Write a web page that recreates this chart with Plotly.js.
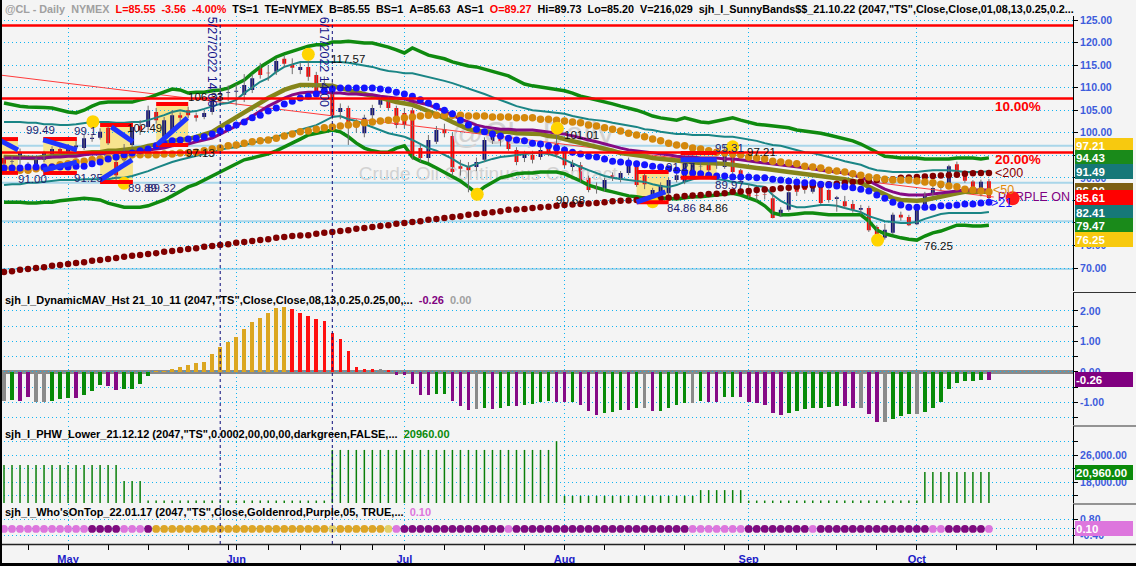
<!DOCTYPE html>
<html><head><meta charset="utf-8">
<script src="https://cdn.plot.ly/plotly-3.0.1.min.js"></script>
<style>html,body{margin:0;padding:0;background:#f4f4f4;}#chart{width:1136px;height:566px;}</style>
</head><body><div id="chart"></div>
<script>
// ---------- DATA (trading-day index 0 = 2022-04-20 ... 123 = 2022-10-14) ----------
const monthTickIdx = [8, 29, 50, 70, 93, 114];
const monthTickText = ['May','Jun','Jul','Aug','Sep','Oct'];
const weekTickIdx = [3,8,13,18,23,28,33,37,42,46,50,55,60,65,70,75,80,85,90,95,99,104,109,114,119,124,129];

const candleOpen = [94.4,93.5,94.0,93.0,92.0,94.0,95.3,96.4,95.8,96.8,
96.6,98.6,98.9,101.1,93.5,93.9,97.3,101.5,101.3,104.6,
99.1,100.6,103.9,105.0,103.9,103.5,104.6,108.4,108.8,109.1,
108.4,109.5,114.6,113.3,113.5,116.4,115.0,113.9,114.6,112.8,
110.1,110.6,104.6,105.5,101.7,99.9,103.9,106.2,107.3,105.5,
104.4,105.0,96.6,94.4,98.0,100.8,99.3,92.6,92.4,92.4,
94.0,98.0,98.8,98.6,96.2,94.4,95.1,94.6,96.8,98.0,
96.6,92.4,92.8,90.0,87.9,87.3,90.6,89.5,91.1,92.8,
90.6,86.2,86.6,86.6,89.5,89.1,91.7,92.5,93.5,92.9,
92.4,94.7,91.7,87.7,86.1,86.3,85.5,81.5,82.9,88.2,
88.4,86.9,88.4,87.3,85.3,84.8,84.2,82.9,83.3,79.1,
76.7,77.8,81.8,81.3,79.7,83.4,86.5,87.8,88.7,93.0,
91.2,89.2,87.0,89.27];
const candleHigh = [95.0,94.8,96.5,93.5,94.5,96.0,97.0,97.2,97.5,98.5,
99.5,99.5,101.0,101.5,94.5,97.5,102.5,102.8,106.0,105.5,
103.5,105.0,104.5,105.8,104.5,105.0,108.5,110.1,110.5,110.8,
113.0,113.0,115.5,115.0,116.5,117.0,116.5,115.5,117.57,113.5,
112.5,111.3,106.5,106.0,103.0,104.0,106.2,108.0,108.0,106.0,
105.5,105.5,97.5,99.5,101.5,102.0,100.0,94.0,93.5,94.5,
99.0,100.9,100.0,99.5,96.8,96.0,96.0,97.0,97.5,101.0,
97.0,94.0,93.5,90.5,89.0,90.0,91.2,91.5,94.5,93.5,
91.0,87.8,89.0,90.0,91.3,94.5,94.5,93.5,94.2,94.0,
97.2,95.5,92.0,88.6,87.5,87.7,86.5,83.5,87.0,88.5,
88.8,89.3,88.8,87.5,86.0,86.0,85.0,84.0,83.8,79.5,
79.8,82.3,82.5,81.8,84.0,86.9,88.4,89.0,92.9,93.6,
91.6,89.5,89.6,89.73];
const candleLow = [92.5,92.0,93.0,91.0,91.5,93.5,94.8,95.0,95.2,96.0,
96.2,98.0,98.5,97.3,89.3,92.5,96.8,99.5,100.5,102.0,
98.5,100.0,102.6,103.2,102.5,103.0,104.0,106.6,107.0,106.0,
106.8,108.8,112.0,111.5,112.8,114.5,113.0,113.0,111.5,108.0,
109.0,103.0,103.0,97.3,100.0,99.0,103.0,105.5,105.0,101.0,
101.0,94.0,93.5,93.5,97.5,99.0,90.5,90.5,86.8,91.5,
93.5,97.5,97.0,96.0,92.8,93.5,93.2,94.0,94.8,94.5,
92.2,91.5,89.0,86.8,86.5,86.9,89.3,89.0,90.6,88.0,
87.5,85.3,86.0,86.0,89.0,88.6,91.2,91.5,91.0,92.0,
92.0,90.5,89.0,85.5,85.0,85.2,81.0,81.3,82.5,86.0,
86.5,86.5,84.2,84.5,82.5,83.1,82.3,81.9,78.0,76.25,
76.3,77.5,80.5,79.3,79.5,83.3,86.0,87.2,88.5,90.5,
88.9,86.9,85.9,85.20];
const candleClose = [93.1,93.6,95.5,91.8,94.0,95.5,96.4,95.8,96.8,97.2,
98.8,98.9,100.2,97.7,90.6,96.6,101.3,100.5,105.0,102.8,
102.8,103.9,103.3,103.9,103.3,104.4,107.9,108.8,109.0,109.3,
110.6,112.1,112.8,113.2,115.9,115.3,114.4,114.6,112.4,109.0,
111.0,103.9,105.5,101.7,101.2,103.3,105.5,107.3,105.5,101.7,
101.7,94.6,94.4,98.4,100.6,99.9,91.3,92.0,91.7,93.5,
98.4,100.6,98.0,96.4,93.5,95.1,94.0,96.2,95.5,95.1,
92.8,93.3,89.5,87.3,87.5,89.5,90.0,91.1,93.3,88.4,
88.6,87.3,88.4,89.5,90.6,94.0,93.9,92.6,91.7,92.8,
95.5,91.3,89.5,85.8,86.0,86.2,81.1,82.9,86.8,86.9,
87.3,88.8,84.4,85.1,85.7,83.7,82.9,83.3,78.4,77.3,
78.5,81.8,81.2,79.5,83.6,86.5,87.76,88.45,92.6,91.1,
89.35,87.27,89.11,85.55];

const upperGreen = [106.6,106.2,105.9,105.7,105.7,105.6,105.5,105.0,104.6,104.4,
105.0,105.9,106.6,106.8,106.8,106.8,106.8,107.3,107.7,108.4,
109.0,109.7,109.5,108.8,109.0,109.0,109.3,109.5,109.9,110.8,
111.7,113.2,114.6,115.7,116.8,117.5,118.1,118.8,119.2,119.5,
119.5,120.1,120.1,120.3,120.1,119.9,119.9,119.5,119.0,118.4,
117.7,118.8,117.9,117.2,116.8,116.4,115.7,115.2,114.8,114.6,
114.1,113.7,113.2,112.6,111.7,110.8,110.4,110.1,109.9,109.5,
109.3,108.8,108.1,107.7,107.3,106.8,106.4,105.9,105.5,105.0,
104.4,103.7,103.3,103.0,102.8,103.3,102.8,102.4,102.2,102.6,
103.0,103.3,102.8,102.4,101.9,101.7,101.5,101.3,101.1,100.6,
100.4,100.2,99.9,99.5,99.1,98.6,98.2,97.5,96.6,95.5,
94.8,94.6,94.4,94.4,94.4,94.2,94.2,94.2,94.2,94.4,
94.4,94.4,94.2,94.43];
const upperTeal = [102.4,102.4,102.4,102.2,102.2,101.9,101.9,101.7,101.7,101.9,
102.2,102.4,102.4,102.4,102.2,102.2,102.4,102.4,102.8,103.3,
103.9,104.6,105.0,104.6,104.8,105.3,105.9,106.4,106.6,107.3,
108.8,110.1,111.3,112.1,113.5,114.6,115.2,115.7,115.7,115.7,
115.7,115.7,115.7,115.5,115.2,115.0,114.6,114.1,113.7,113.5,
113.2,113.2,112.8,112.4,111.9,111.5,111.0,110.4,109.9,109.3,
108.6,107.9,107.3,106.6,105.9,105.5,105.0,104.8,104.6,104.4,
104.2,103.7,103.3,103.0,102.8,102.6,102.2,101.9,101.5,101.3,
100.8,100.6,100.2,99.9,99.7,99.7,99.5,99.5,99.5,99.3,
99.1,99.1,98.8,98.6,98.2,97.7,97.3,97.1,96.6,96.2,
95.7,95.5,95.1,94.6,94.2,93.7,93.3,92.9,92.2,91.7,
91.5,91.3,91.3,91.3,91.3,91.5,91.7,91.7,91.7,91.5,
91.3,91.3,91.3,91.49];
const lowerTeal = [88.4,88.6,88.6,88.9,88.9,89.1,89.3,89.5,89.5,89.5,
89.7,89.7,89.7,89.7,90.0,90.0,90.4,90.9,91.5,92.2,
92.9,93.5,94.0,94.4,94.8,95.3,95.7,96.2,96.6,96.8,
97.3,97.7,98.2,98.6,99.1,99.7,100.2,100.6,101.1,101.7,
102.6,103.5,103.7,103.0,102.6,101.9,101.3,100.6,99.9,99.5,
99.1,98.4,97.5,96.6,96.0,95.1,94.2,93.1,92.4,93.1,
93.7,94.2,94.6,94.8,95.1,95.3,95.5,95.5,95.3,94.8,
94.0,93.1,92.4,91.7,91.1,90.4,90.0,89.7,89.5,89.3,
89.1,88.6,88.2,88.0,88.4,89.1,89.7,90.0,90.0,89.7,
89.5,89.1,88.9,88.6,88.2,88.0,86.2,84.9,84.0,83.5,
83.5,83.8,84.0,84.0,83.8,83.3,82.9,82.4,81.5,80.9,
80.4,80.2,80.0,80.0,80.2,80.9,81.5,82.0,82.2,82.2,
82.2,82.2,82.2,82.41];
const lowerGreen = [84.6,84.6,84.6,84.4,84.4,84.6,84.6,84.9,85.1,85.3,
85.5,85.3,85.1,84.4,84.0,83.5,83.5,83.5,83.8,84.4,
85.1,86.0,87.1,88.0,88.6,89.5,90.4,91.5,92.4,93.3,
94.0,94.4,94.8,95.3,96.0,96.8,97.7,98.6,99.5,99.9,
100.2,100.6,100.2,99.1,97.7,96.6,96.0,95.7,95.7,96.6,
97.1,94.6,93.7,93.1,92.2,91.3,90.4,89.3,88.0,86.6,
88.0,89.1,90.0,90.4,90.9,91.1,91.1,91.3,91.3,91.3,
90.9,90.2,89.3,88.4,87.8,87.3,86.9,86.4,86.0,85.8,
85.5,85.5,85.5,85.5,85.3,85.5,85.8,85.8,86.0,86.2,
86.4,86.6,86.2,85.5,84.9,83.8,82.2,81.8,81.8,82.0,
82.2,82.2,82.0,81.8,81.8,81.8,81.8,81.8,80.4,78.4,
77.6,77.1,76.7,76.4,76.2,77.1,77.8,78.2,78.9,79.5,
79.5,79.3,79.3,79.47];
const oliveMA = [94.6,94.5,94.4,94.4,94.4,94.6,94.8,95.1,95.1,95.3,
95.5,95.7,95.7,96.0,96.0,96.2,96.2,96.6,97.1,97.3,
97.7,98.2,98.4,98.6,99.1,99.7,100.2,101.3,102.4,103.3,
104.4,105.5,106.6,107.7,108.6,109.5,110.1,110.6,110.6,110.6,
110.6,110.4,109.9,109.5,109.0,108.6,108.1,107.7,107.3,106.8,
106.6,106.2,105.5,104.8,104.2,103.3,102.4,101.5,100.8,100.4,
100.2,100.2,100.2,100.2,99.9,99.9,99.9,99.7,99.3,99.1,
98.6,98.2,97.7,97.3,96.8,96.4,96.0,95.5,95.3,95.1,
94.8,94.4,94.2,94.0,93.7,93.5,93.5,93.3,93.3,93.3,
93.1,92.9,92.6,92.4,92.2,92.0,91.7,91.5,91.3,91.1,
90.9,90.6,90.4,90.2,90.0,89.7,89.3,88.9,88.0,87.1,
86.2,85.5,85.1,84.9,84.9,85.1,85.5,86.0,86.4,86.6,
86.9,86.9,86.9,86.9];
const purpleMA = [94.4,94.4,94.4,94.4,94.4,94.4,94.6,94.6,94.8,94.8,
95.1,95.3,95.3,95.5,95.5,95.7,95.7,96.0,96.2,96.4,
96.6,97.1,97.3,97.5,98.0,98.4,98.8,99.7,100.6,101.5,
102.6,103.7,104.8,105.9,106.8,107.7,108.4,108.8,109.0,109.0,
109.0,108.8,108.8,108.6,108.6,108.4,108.4,108.1,107.9,107.7,
107.5,107.0,106.6,106.2,105.5,104.8,103.9,103.0,102.4,101.7,
101.3,101.1,100.8,100.8,100.6,100.6,100.6,100.4,100.2,99.9,
99.7,99.3,98.8,98.4,98.0,97.5,97.1,96.6,96.2,96.0,
95.7,95.5,95.3,95.1,94.8,94.6,94.6,94.4,94.4,94.4,
94.2,94.2,94.0,93.7,93.5,93.3,93.1,92.9,92.6,92.4,
92.2,92.0,91.7,91.5,91.3,91.1,90.6,90.2,89.3,88.4,
87.5,86.9,86.4,86.2,86.2,86.2,86.4,86.6,86.9,87.1,
87.3,87.3,87.3,87.3];
const ma21 = [92.2,92.2,92.2,92.4,92.4,92.4,92.4,92.4,92.4,92.6,
92.6,93.1,93.5,94.2,94.6,95.1,95.5,96.0,96.4,97.1,
97.7,98.2,98.4,98.6,98.8,99.1,99.7,100.4,101.1,101.7,
102.4,103.3,103.9,104.8,105.5,106.4,107.0,107.7,108.1,108.6,
109.3,109.7,109.9,109.9,109.9,109.9,109.9,109.7,109.5,109.0,
108.6,108.1,107.3,106.6,105.9,105.0,104.2,102.8,101.7,100.8,
100.2,99.7,99.3,98.8,98.4,98.2,97.7,97.5,97.1,96.6,
96.2,95.7,95.3,94.8,94.6,94.2,93.7,93.5,93.3,93.1,
92.9,92.6,92.4,92.0,91.7,91.3,91.1,90.9,90.6,90.4,
90.4,90.2,90.2,90.2,90.0,90.0,89.7,89.5,89.3,89.1,
88.9,88.9,88.6,88.4,88.2,88.0,87.8,87.5,87.1,86.2,
85.5,84.6,84.0,83.5,83.5,83.5,83.5,83.8,83.8,84.0,
84.2,84.2,84.4,84.6];
const ma50 = [92.2,92.0,91.7,91.7,92.0,92.2,92.4,92.9,93.1,93.5,
93.7,94.0,94.2,94.4,94.6,94.8,95.1,95.1,95.1,95.1,
95.3,95.3,95.5,95.5,95.7,96.0,96.4,96.6,97.1,97.3,
97.7,98.0,98.2,98.4,98.8,99.3,99.7,100.2,100.4,100.8,
101.1,101.3,101.5,101.7,101.9,102.2,102.4,102.6,102.8,103.0,
103.3,103.5,103.7,103.9,103.9,103.9,103.9,103.9,103.7,103.7,
103.7,103.5,103.5,103.5,103.3,103.3,103.3,103.0,103.0,102.8,
102.6,102.4,102.2,101.7,101.5,101.1,100.8,100.4,99.9,99.5,
99.1,98.6,98.2,97.7,97.3,97.1,96.6,96.4,96.0,95.7,
95.5,95.3,95.1,94.6,94.4,94.2,93.7,93.5,93.3,93.1,
92.6,92.4,92.2,91.7,91.5,91.3,90.9,90.6,90.2,90.0,
89.7,89.5,89.5,89.5,89.3,89.1,88.9,88.6,88.2,88.0,
87.5,87.3,87.1,86.9];
const ma200 = [69.1,69.3,69.6,69.8,70.0,70.2,70.5,70.7,70.9,71.1,
71.3,71.6,71.8,72.0,72.2,72.5,72.7,72.9,73.1,73.3,
73.6,73.8,74.0,74.2,74.4,74.7,74.9,75.1,75.3,75.6,
75.8,76.0,76.2,76.4,76.7,76.9,77.1,77.2,77.3,77.6,
77.8,78.0,78.2,78.4,78.7,78.9,79.1,79.3,79.5,79.8,
80.0,80.2,80.4,80.7,80.9,81.1,81.3,81.5,81.8,82.0,
82.2,82.4,82.6,82.9,83.0,83.1,83.3,83.5,83.6,83.8,
84.0,84.1,84.2,84.3,84.4,84.6,84.8,84.9,85.0,85.1,
85.2,85.3,85.5,85.6,85.8,86.0,86.1,86.2,86.4,86.5,
86.6,86.9,87.0,87.1,87.3,87.4,87.5,87.7,87.8,88.0,
88.2,88.3,88.4,88.6,88.7,88.9,89.1,89.2,89.3,89.5,
89.6,89.7,90.0,90.1,90.2,90.3,90.4,90.5,90.6,90.7,
90.9,91.0,91.1,91.1];

const levelRed = [123.8, 107.6, 95.6];
const levelBlue = [97.1, 88.9, 80.4, 69.8];
const trendX = [-0.5, 123.6];
const trendY = [112.8, 85.75];
const timeMarkIdx = [27, 41];
const timeMarkText = ['5/27/2022 14:00', '6/17/2022 14:00'];

const boxX0 = [-0.5, 4.9, 12.0, 19.0, 79.0, 84.5];
const boxX1 = [1.75, 9.1, 16.1, 23.0, 83.0, 89.0];
const boxTop = [98.6, 98.6, 101.7, 106.4, 91.3, 95.5];
const boxBot = [91.1, 91.1, 89.1, 97.3, 84.6, 90.0];
const segX0 = [-0.5, 4.9, 4.9, 13.4, 12.0, 19.1, 79.0, 84.5];
const segY0 = [98.3, 98.4, 91.7, 101.3, 89.5, 97.3, 84.6, 94.0];
const segX1 = [1.75, 9.1, 9.1, 16.1, 16.0, 22.9, 82.6, 89.0];
const segY1 = [96.2, 96.2, 93.5, 98.0, 94.0, 103.3, 86.9, 94.0];

const swingDotX = [11.1, 15.0, 38.0, 59.1, 69.1, 81.0, 91.0, 109.1];
const swingDotY = [102.45, 88.8, 117.4, 86.35, 101.0, 84.7, 96.9, 76.2];

const labelText = ['99.49','91.00','99.1','91.25','89.89','89.32','102.49','106.33','97.13','117.57','101.01','90.68','84.86','84.86','91.27','95.31','97.21','89.97','76.25'];
const labelX = [4.5, 3.6, 10.1, 10.5, 17.3, 19.7, 17.5, 25.2, 24.6, 43.0, 72.1, 70.75, 84.6, 88.6, 84.5, 90.6, 94.6, 90.6, 116.75];
const labelY = [100.6, 89.75, 100.4, 90.0, 87.75, 87.75, 101.05, 107.9, 95.5, 116.35, 99.5, 85.1, 83.3, 83.3, 92.4, 96.6, 95.7, 88.4, 74.9];
const labelDark = [1,1,1,1,1,1,0,0,0,0,0,0,1,0,1,1,0,1,0];

const histVal = [-0.95,-0.92,-0.95,-0.83,-1.00,-1.00,-0.95,-0.90,-0.87,-0.87,
-0.76,-0.62,-0.44,-0.46,-0.59,-0.55,-0.55,-0.38,-0.13,0.02,
0.04,0.09,0.15,0.24,0.31,0.33,0.58,0.83,0.99,1.16,
1.40,1.65,1.78,1.92,2.10,2.14,2.05,1.95,1.82,1.73,
1.67,1.27,1.07,0.69,0.17,0.09,0.09,0.09,0.05,-0.09,
-0.09,-0.40,-0.76,-0.76,-0.73,-0.73,-0.95,-1.11,-1.24,-1.22,
-1.19,-1.20,-1.17,-1.12,-1.12,-1.09,-1.04,-0.99,-0.96,-0.99,
-0.99,-0.99,-1.09,-1.28,-1.40,-1.35,-1.32,-1.26,-1.26,-1.19,
-1.19,-1.28,-1.28,-1.19,-1.10,-1.03,-1.03,-0.96,-0.98,-0.99,
-0.83,-0.83,-0.83,-0.98,-1.02,-1.09,-1.35,-1.40,-1.34,-1.28,
-1.22,-1.19,-1.19,-1.15,-1.12,-1.12,-1.19,-1.19,-1.38,-1.64,
-1.64,-1.54,-1.45,-1.38,-1.38,-1.30,-1.17,-0.98,-0.55,-0.36,
-0.30,-0.30,-0.27,-0.26];
const histState = ('AGPPAAGGGP'+'GGGPPGGGGY'+'YYYYYYYYYY'+'YYYYYYRRRR'+'RRRRRRRARP'+'PPPPGGPPPA'+
  'GPGGPGGGGP'+'PGPPPGGGPG'+'APGGGGAGPP'+'GGPPPPPPGG'+'GGGGGPPAPP'+'AGGGAGGGGG'+'GGGP').split('');

const phwVal = [23000,23000,23000,23000,23000,23000,23000,23000,23000,23000,
23000,23000,23000,23000,23000,18300,18300,18300,12500,12500,
12500,12500,12500,12500,12500,12500,12500,12500,12500,12500,
12500,12500,12500,12500,12500,12500,12500,12500,12500,12500,
12500,27500,27500,27500,27500,27500,27500,27500,27500,27500,
27500,27500,27500,27500,27500,27500,27500,27500,27500,27500,
27500,27500,27500,27500,27500,27500,27500,27500,27500,30100,
13900,13900,13900,13900,13900,13900,13900,13900,13900,13900,
13900,13900,13900,13900,13900,13900,13900,15600,15600,15600,
15600,15600,15600,12500,12500,12500,12500,12500,12500,12500,
12500,12500,12500,12500,12500,12500,12500,12500,12500,12500,
12500,12500,12500,12500,12500,20960,20960,20960,20960,20960,
20960,20960,20960,20960];

const whoOnTop = ['OOOOOOOOOOO','PPPP','OOO','P','GGGGGGGGGGGGGGGGGGGGGG','K','GGGGGG','K','O',
  'PPPPPPPPPPPPP','O','PPPPPPPPPPPPPPPPPPPPPP','OOOOOOO','PPPPPPPP','O','PPPPPPPPPPPPPP','OO','PPPPP','O'].join('').split('');
const whoLevel = 0.10;

const priceFlags = [97.21, 94.43, 91.49, 87.2, 85.61, 82.41, 79.47, 76.25];
const priceFlagText = ['97.21','94.43','91.49','86.90','85.61','82.41','79.47','76.25'];

// ---------- LAYOUT HELPERS ----------
const FONT = 'Liberation Sans, Arial, sans-serif';
const W = 1136, H = 566, MR = 63, MB = 22;
const PW = W - MR, PH = H - MB;
const px = x => x / PW;
const py = y => (PH - y) / PH;
const GRID = '#12b4f2';
const GDASH = '1px,3px';
const TICKC = '#3d5cdc';

const idx = candleClose.map((_, i) => i);

const wickX = [], wickY = [];
idx.forEach(i => { wickX.push(i, i, null); wickY.push(candleLow[i], candleHigh[i], null); });
const PHW_MIN = 11780;
const phwX = [], phwY = [];
idx.forEach(i => { phwX.push(i, i, null); phwY.push(PHW_MIN, phwVal[i], null); });

const histColorMap = {G:'#078a07', P:'#850a85', Y:'#dba621', R:'#ff1010', A:'#8a8a8a'};
const whoColorMap = {O:'#dd76dd', P:'#7f0a7f', G:'#dda526', K:'#e3cf68'};

const traces = [];
traces.push({type:'scatter', mode:'text', x:[66, 44.3], y:[99.3, 90.6], text:['@CL, Daily','Crude Oil Continuous Contract'],
  textposition:['middle center','middle right'], textfont:{family:FONT, size:[32,19], color:'#d2d2d2'}, hoverinfo:'skip'});
traces.push({type:'scatter', mode:'lines', x:trendX, y:trendY, line:{color:'#ff3b3b', width:1}, hoverinfo:'skip'});
const lineT = (y, color, width) => ({type:'scatter', mode:'lines', x:idx, y:y, line:{color, width, shape:'linear'}, hoverinfo:'skip'});
traces.push(lineT(upperGreen, '#0f8a0f', 3.5));
traces.push(lineT(lowerGreen, '#0f8a0f', 3.5));
traces.push(lineT(upperTeal, '#1a8585', 2));
traces.push(lineT(lowerTeal, '#1a8585', 2));
traces.push(lineT(oliveMA, '#85851a', 4.5));
traces.push(lineT(purpleMA, '#850a85', 3));
traces.push({type:'scatter', mode:'lines', x:wickX, y:wickY, line:{color:'#6e6e6e', width:1}, hoverinfo:'skip', connectgaps:false});
traces.push({type:'candlestick', x:idx, open:candleOpen, high:candleHigh, low:candleLow, close:candleClose,
  increasing:{line:{color:'#12127a', width:0}, fillcolor:'#12127a'},
  decreasing:{line:{color:'#ff0000', width:0}, fillcolor:'#ff0000'}, whiskerwidth:0, hoverinfo:'skip'});
const dotT = (y, color, size) => ({type:'scatter', mode:'markers', x:idx, y:y, marker:{color, size, line:{width:0}}, hoverinfo:'skip'});
traces.push(dotT(ma200, '#800000', 6.5));
traces.push(dotT(ma50, '#d4880c', 7.5));
traces.push(dotT(ma21, '#1414ff', 7));
traces.push({type:'scatter', mode:'markers', x:swingDotX, y:swingDotY, marker:{color:'#ffd400', size:13}, hoverinfo:'skip'});
traces.push({type:'scatter', mode:'text', x:[124.1], y:[85.5], text:['PURPLE ON TOP'], textposition:'middle right',
  textfont:{family:FONT, size:12.5, color:'#800080'}, cliponaxis:true, hoverinfo:'skip'});
traces.push({type:'scatter', mode:'markers', x:[125.96], y:[85.47], marker:{color:'#ff1a1a', size:14}, hoverinfo:'skip'});
traces.push({type:'bar', x:idx, y:histVal, yaxis:'y2', width:0.45, marker:{color:histState.map(s => histColorMap[s]), line:{width:0}}, hoverinfo:'skip'});
traces.push({type:'scatter', mode:'lines', x:phwX, y:phwY, yaxis:'y3', line:{color:'#0a7f0a', width:1.5}, hoverinfo:'skip'});
traces.push({type:'scatter', mode:'markers', x:idx, y:idx.map(() => whoLevel), yaxis:'y4',
  marker:{color:whoOnTop.map(s => whoColorMap[s]), size:7.8}, hoverinfo:'skip'});

const shapes = [];
levelBlue.forEach(v => shapes.push({type:'line', xref:'paper', x0:0, x1:1, yref:'y', y0:v, y1:v, line:{color:'#a9d6ea', width:2}, layer:'below'}));
boxX0.forEach((x0, k) => shapes.push({type:'rect', xref:'x', yref:'y', x0:x0, x1:boxX1[k], y0:boxBot[k], y1:boxTop[k], fillcolor:'#f7e48e', line:{width:0}, layer:'below'}));
levelRed.forEach(v => shapes.push({type:'line', xref:'paper', x0:0, x1:1, yref:'y', y0:v, y1:v, line:{color:'#ff0000', width:2.5}, layer:'above'}));
boxX0.forEach((x0, k) => {
  shapes.push({type:'line', xref:'x', yref:'y', x0:x0, x1:boxX1[k], y0:boxTop[k], y1:boxTop[k], line:{color:'#ff0000', width:4}});
  shapes.push({type:'line', xref:'x', yref:'y', x0:x0, x1:boxX1[k], y0:boxBot[k], y1:boxBot[k], line:{color:'#ff0000', width:4}});
});
segX0.forEach((x0, k) => shapes.push({type:'line', xref:'x', yref:'y', x0:x0, x1:segX1[k], y0:segY0[k], y1:segY1[k], line:{color:'#1f34ff', width:5}}));
timeMarkIdx.forEach(v => shapes.push({type:'line', xref:'x', yref:'paper', x0:v, x1:v, y0:0, y1:py(17), line:{color:'#0a0a7a', width:1, dash:'3px,3px'}}));
shapes.push({type:'line', xref:'paper', x0:0, x1:1, yref:'y2', y0:0, y1:0, line:{color:'#8a8a8a', width:4}, layer:'below'});
[292.5, 426, 504].forEach(y => shapes.push({type:'line', xref:'paper', yref:'paper', x0:1, x1:W/PW, y0:py(y), y1:py(y), line:{color:'#333', width:1}}));
shapes.push({type:'line', xref:'paper', yref:'paper', x0:0, x1:W/PW, y0:py(544.5), y1:py(544.5), line:{color:'#222', width:1.5}});
shapes.push({type:'line', xref:'paper', yref:'paper', x0:px(1), x1:px(1), y0:py(0), y1:py(H), line:{color:'#000', width:2}});
shapes.push({type:'line', xref:'paper', yref:'paper', x0:0, x1:W/PW, y0:py(564.5), y1:py(564.5), line:{color:'#000', width:3}});

const ann = [];
const S2 = '&nbsp;&nbsp;';
const header = (y, html, size) => ann.push({xref:'paper', yref:'paper', x:px(3), y:py(y), xanchor:'left', yanchor:'middle', showarrow:false,
  text:html, font:{family:FONT, size:size, color:'#000'}});
header(9, '<b><span style="color:#a0a0a0">@CL - Daily' + S2 + 'NYMEX</span>' + S2 +
  '<span style="color:#ff0000">L=85.55' + S2 + '-3.56' + S2 + '-4.00%</span>' + S2 +
  'TS=1' + S2 + 'TE=NYMEX' + S2 + 'B=85.55' + S2 + 'BS=1' + S2 + 'A=85.63' + S2 + 'AS=1' + S2 +
  '<span style="color:#ff0000">O=89.27</span>' + S2 + 'Hi=89.73' + S2 + 'Lo=85.20' + S2 + 'V=216,029' + S2 +
  'sjh_I_SunnyBands$$_21.10.22 (2047,"TS",Close,Close,01,08,13,0.25,0.2...</b>', 10.8);
header(300, '<b>sjh_I_DynamicMAV_Hst 21_10_11 (2047,"TS",Close,Close,08,13,0.25,0.25,00,...' + S2 +
  '<span style="color:#800080">-0.26</span>' + S2 + '<span style="color:#a0a0a0">0.00</span></b>', 11);
header(434, '<b>sjh_I_PHW_Lower_21.12.12 (2047,"TS",0.0002,00,00,00,darkgreen,FALSE,...' + S2 +
  '<span style="color:#0a8a0a">20960.00</span></b>', 11);
header(512, '<b>sjh_I_Who\'sOnTop_22.01.17 (2047,"TS",Close,Goldenrod,Purple,05, TRUE,...' + S2 +
  '<span style="color:#dd76dd">0.10</span></b>', 11);

labelText.forEach((t, k) => ann.push({xref:'x', yref:'y', x:labelX[k], y:labelY[k], text:t, showarrow:false,
  font:{family:FONT, size:11.5, color: labelDark[k] ? '#1c1c6e' : '#111'}}));
timeMarkIdx.forEach((v, k) => ann.push({xref:'x', yref:'paper', x:v, xshift:-8, y:py(15), yanchor:'top', text:timeMarkText[k],
  textangle:90, showarrow:false, font:{family:FONT, size:12.5, color:'#14148a'}}));
ann.push({xref:'x', yref:'y', x:126.6, y:105.9, text:'<b>10.00%</b>', showarrow:false, font:{family:FONT, size:13.5, color:'#ff0000'}});
ann.push({xref:'x', yref:'y', x:126.6, y:94.0, text:'<b>20.00%</b>', showarrow:false, font:{family:FONT, size:13.5, color:'#ff0000'}});
ann.push({xref:'x', yref:'y', x:123.5, y:91.1, xanchor:'left', text:'&lt;200', showarrow:false, font:{family:FONT, size:12.5, color:'#8b0000'}});
ann.push({xref:'x', yref:'y', x:123.25, y:87.3, xanchor:'left', text:'&lt;50', showarrow:false, font:{family:FONT, size:12.5, color:'#e08a0a'}});
ann.push({xref:'x', yref:'y', x:123.0, y:84.5, xanchor:'left', text:'&gt;21', showarrow:false, font:{family:FONT, size:12.5, color:'#1414ff'}});

const flagColors = ['#f7c90f','#1a8a1a','#167878','#7d5f12','#ff0000','#167878','#1a8a1a','#f7c90f'];
const flag = (yref, v, t, c) => ann.push({xref:'paper', x:1, xanchor:'left', xshift:2, yref, y:v, yanchor:'middle', text:'<b>' + t + '</b>',
  showarrow:false, bgcolor:c, bordercolor:c, borderpad:0, width:56, height:13, align:'left', font:{family:FONT, size:11.5, color:'#fff'}});
priceFlags.forEach((v, k) => flag('y', v, priceFlagText[k], flagColors[k]));
flag('y2', -0.26, '-0.26', '#800080');
flag('y3', 20960, '20,960.00', '#0a8a0a');
flag('y4', 0.10, '0.10', '#dd76dd');

const yBase = {side:'right', anchor:'x', showline:true, linecolor:'#000', linewidth:1, ticks:'outside', ticklen:4, tickcolor:'#000',
  showgrid:true, gridcolor:GRID, griddash:GDASH, gridwidth:1, zeroline:false, fixedrange:true,
  tickfont:{family:FONT, size:10.5, color:TICKC, weight:'bold'}, tickmode:'array'};
const priceTicks = [70,75,80,85,90,95,100,105,110,115,120,125];

const layout = {
  width:W, height:H, margin:{l:0, r:MR, t:0, b:MB}, paper_bgcolor:'#f4f4f4', plot_bgcolor:'#f4f4f4',
  showlegend:false, hovermode:false, bargap:0,
  xaxis:{domain:[0,1], range:[-0.5,133.5], anchor:'y4', tickmode:'array', tickvals:monthTickIdx, ticktext:monthTickText,
    ticks:'outside', ticklen:5, tickcolor:'#000', showline:false, showgrid:true, gridcolor:GRID, griddash:GDASH, gridwidth:1,
    zeroline:false, fixedrange:true, rangeslider:{visible:false},
    tickfont:{family:FONT, size:11, color:'#1c1cc8', weight:'bold'},
    minor:{tickmode:'array', tickvals:weekTickIdx, ticks:'outside', ticklen:5, tickcolor:'#000', showgrid:false}},
  yaxis:Object.assign({}, yBase, {domain:[py(291), py(16)], range:[64.91,125.89], tickvals:priceTicks, ticktext:priceTicks.map(v => v.toFixed(2))}),
  yaxis2:Object.assign({}, yBase, {domain:[py(425), py(293)], range:[-1.74,2.59], tickvals:[-1.5,-1,-0.5,0,0.5,1,1.5,2], ticktext:['','-1.00','','0.00','','1.00','','2.00']}),
  yaxis3:Object.assign({}, yBase, {domain:[py(503), py(426)], range:[PHW_MIN,34590], tickvals:[14000,18000,22000,26000,30000], ticktext:['','18,000.00','','26,000.00','']}),
  yaxis4:Object.assign({}, yBase, {domain:[0, py(504)], range:[-1.0,1.925], tickvals:[-0.4,0.1,0.8], ticktext:['-0.40','','0.80']}),
  shapes:shapes, annotations:ann
};
Plotly.newPlot('chart', traces, layout, {staticPlot:true, displayModeBar:false});
</script></body></html>
